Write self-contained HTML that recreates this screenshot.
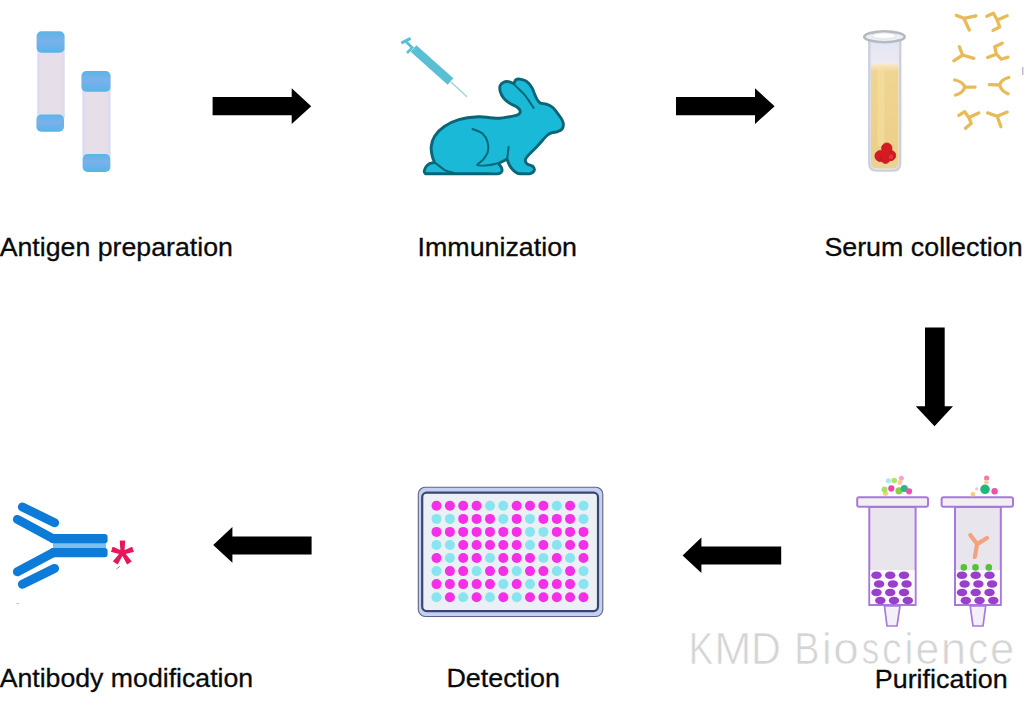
<!DOCTYPE html>
<html><head><meta charset="utf-8">
<style>
html,body{margin:0;padding:0;background:#fff;}
body{width:1035px;height:720px;overflow:hidden;position:relative;}
svg{position:absolute;left:0;top:0;}
text{font-family:"Liberation Sans",sans-serif;}
</style></head><body>
<svg width="1035" height="720" viewBox="0 0 1035 720">
<!-- ===== Antigen preparation tubes ===== -->
<g id="tubes">
  <defs>
    <linearGradient id="cap" x1="0" y1="0" x2="0" y2="1">
      <stop offset="0" stop-color="#58b6e6"/>
      <stop offset="0.45" stop-color="#7cb0ec"/>
      <stop offset="1" stop-color="#56b4e8"/>
    </linearGradient>
    <linearGradient id="tbody" x1="0" y1="0" x2="1" y2="0">
      <stop offset="0" stop-color="#d6d8f2"/>
      <stop offset="0.12" stop-color="#e6dee8"/>
      <stop offset="0.88" stop-color="#e6dee8"/>
      <stop offset="1" stop-color="#d6d8f2"/>
    </linearGradient>
  </defs>
  <rect x="37.3" y="48" width="27.4" height="70" fill="url(#tbody)"/>
  <rect x="36.4" y="114.6" width="27.6" height="17.2" rx="5" fill="url(#cap)"/>
  <rect x="36.6" y="31.2" width="28" height="21.6" rx="5" fill="url(#cap)"/>
  <rect x="82.4" y="88" width="28.2" height="68" fill="url(#tbody)"/>
  <rect x="82.6" y="154" width="27.8" height="18" rx="5" fill="url(#cap)"/>
  <rect x="81.4" y="71" width="29.2" height="20.8" rx="5" fill="url(#cap)"/>
</g>

<!-- ===== Arrows ===== -->
<g fill="#000">
  <path d="M212.6,97 L291.7,97 L291.7,88.2 L311.2,106.2 L291.7,124 L291.7,115.2 L212.6,115.2 Z"/>
  <path d="M676,97 L755,97 L755,88.2 L774.6,106.2 L755,124 L755,115.2 L676,115.2 Z"/>
  <path d="M925,327.5 L944.7,327.5 L944.7,406.3 L953,406.3 L934.5,426.3 L915.8,406.3 L925,406.3 Z"/>
  <path d="M311.6,536.4 L232.4,536.4 L232.4,527 L213.2,545 L232.4,562.8 L232.4,554.6 L311.6,554.6 Z"/>
  <path d="M781.2,546.4 L701.4,546.4 L701.4,537.4 L682.6,555.5 L701.4,573 L701.4,564.6 L781.2,564.6 Z"/>
</g>

<!-- ===== Syringe ===== -->
<g id="syringe">
  <line x1="451" y1="82" x2="467" y2="96.8" stroke="#9fd3df" stroke-width="1.5"/>
  <line x1="413.5" y1="48.5" x2="450.5" y2="81.5" stroke="#5bbfd3" stroke-width="8.6"/>
  <line x1="405.9" y1="41.5" x2="413" y2="48.5" stroke="#5bbfd3" stroke-width="2.8"/>
  <line x1="401.3" y1="43.2" x2="410.6" y2="38.3" stroke="#5bbfd3" stroke-width="3"/>
  <line x1="407" y1="53" x2="411.5" y2="48.5" stroke="#5bbfd3" stroke-width="2.6"/>
</g>

<!-- ===== Rabbit ===== -->
<g id="rabbit" stroke="#0b6576" stroke-linejoin="round" stroke-linecap="round">
  <path fill="#1ab9d8" stroke-width="2.9" d="M425.50,173.80 C425.28,173.37 424.08,172.42 424.20,171.20 C424.32,169.98 425.28,167.77 426.20,166.50 C427.12,165.23 428.30,164.27 429.70,163.60 C431.10,162.93 433.78,162.68 434.60,162.50 C434.23,161.52 432.97,159.20 432.40,156.60 C431.83,154.00 430.83,150.30 431.20,146.90 C431.57,143.50 432.42,139.60 434.60,136.20 C436.78,132.80 440.25,129.25 444.30,126.50 C448.35,123.75 453.23,121.32 458.90,119.70 C464.57,118.08 473.12,117.13 478.30,116.80 C483.48,116.47 486.43,117.47 490.00,117.70 C493.57,117.93 496.47,118.37 499.70,118.20 C502.93,118.03 506.48,117.20 509.40,116.70 C512.32,116.20 515.42,115.88 517.20,115.20 C518.98,114.52 519.73,113.57 520.10,112.60 C520.47,111.63 520.05,110.42 519.40,109.40 C518.75,108.38 517.87,107.55 516.20,106.50 C514.53,105.45 511.50,104.48 509.40,103.10 C507.30,101.72 505.13,100.15 503.60,98.20 C502.07,96.25 500.77,93.50 500.20,91.40 C499.63,89.30 499.63,87.13 500.20,85.60 C500.77,84.07 502.22,82.87 503.60,82.20 C504.98,81.53 506.80,81.35 508.50,81.60 C510.20,81.85 512.92,83.35 513.80,83.70 C514.20,83.02 514.98,80.33 516.20,79.60 C517.42,78.87 519.32,78.95 521.10,79.30 C522.88,79.65 525.12,80.33 526.90,81.70 C528.68,83.07 530.50,85.38 531.80,87.50 C533.10,89.62 533.73,92.28 534.70,94.40 C535.67,96.52 536.63,98.75 537.60,100.20 C538.57,101.65 539.03,102.45 540.50,103.10 C541.97,103.75 544.45,103.45 546.40,104.10 C548.35,104.75 550.42,105.55 552.20,107.00 C553.98,108.45 555.48,110.70 557.10,112.80 C558.72,114.90 560.85,117.65 561.90,119.60 C562.95,121.55 563.40,122.88 563.40,124.50 C563.40,126.12 562.95,128.08 561.90,129.30 C560.85,130.52 558.72,131.23 557.10,131.80 C555.48,132.37 553.83,132.13 552.20,132.70 C550.57,133.27 549.75,132.98 547.30,135.20 C544.85,137.42 540.68,142.63 537.50,146.00 C534.32,149.37 530.23,153.05 528.20,155.40 C526.17,157.75 525.48,158.68 525.30,160.10 C525.12,161.52 525.85,162.85 527.10,163.90 C528.35,164.95 531.62,165.28 532.80,166.40 C533.98,167.52 534.62,169.40 534.20,170.60 C533.78,171.80 532.33,173.08 530.30,173.60 C528.27,174.12 524.10,173.73 522.00,173.70 C519.90,173.67 519.15,173.98 517.70,173.40 C516.25,172.82 514.67,171.57 513.30,170.20 C511.93,168.83 510.55,167.08 509.50,165.20 C508.45,163.32 507.42,159.95 507.00,158.90 C506.25,159.33 503.83,160.72 502.50,161.50 C501.17,162.28 499.18,162.60 499.00,163.60 C498.82,164.60 500.92,166.23 501.40,167.50 C501.88,168.77 502.33,170.17 501.90,171.20 C501.47,172.23 500.78,173.27 498.80,173.70 C496.82,174.13 491.47,173.78 490.00,173.80 L425.50,173.80 Z"/>
  <g fill="none" stroke-width="2">
    <path d="M434.60,162.50 C435.08,162.85 435.72,163.30 437.50,164.60 C439.28,165.90 442.55,168.92 445.30,170.30 C448.05,171.68 452.55,172.47 454.00,172.90 "/>
    <path d="M472.50,129.00 C474.12,129.72 479.68,131.12 482.20,133.30 C484.72,135.48 486.67,139.02 487.60,142.10 C488.53,145.18 488.53,148.88 487.80,151.80 C487.07,154.72 484.95,157.37 483.20,159.60 C481.45,161.83 476.50,164.27 477.30,165.20 C478.10,166.13 484.60,165.52 488.00,165.20 C491.40,164.88 495.87,163.57 497.70,163.30 C499.53,163.03 498.78,163.55 499.00,163.60 "/>
    <path d="M508.60,146.90 C508.47,148.08 508.07,152.00 507.80,154.00 C507.53,156.00 507.13,158.08 507.00,158.90 "/>
    <path d="M513.80,84.10 C514.70,85.00 517.33,87.63 519.20,89.50 C521.07,91.37 523.23,93.20 525.00,95.30 C526.77,97.40 528.35,99.98 529.80,102.10 C531.25,104.22 533.05,107.02 533.70,108.00 "/>
  </g>
</g>

<!-- ===== Serum tube ===== -->
<g id="serum">
  <defs>
    <linearGradient id="liq" x1="0" y1="63" x2="0" y2="170" gradientUnits="userSpaceOnUse">
      <stop offset="0" stop-color="#f7ecd6"/>
      <stop offset="0.08" stop-color="#f0d592"/>
      <stop offset="0.85" stop-color="#ecd088"/>
      <stop offset="1" stop-color="#e8d49a"/>
    </linearGradient>
    <linearGradient id="glass" x1="0" y1="40" x2="0" y2="64" gradientUnits="userSpaceOnUse">
      <stop offset="0" stop-color="#e2e5f3"/>
      <stop offset="1" stop-color="#eceaf2"/>
    </linearGradient>
  </defs>
  <path d="M869.5,40 L869.5,163 Q869.5,170 876,170 L893,170 Q899.8,170 899.8,163 L899.8,40 Z" fill="url(#glass)"/>
  <path d="M871,63 L898.5,63 L898.5,163 Q898.5,168.6 893,168.6 L876.5,168.6 Q871,168.6 871,163 Z" fill="url(#liq)"/>
  <rect x="877.5" y="66" width="7" height="80" fill="#f6e2aa" opacity="0.5"/>
  <path d="M869.3,40 L869.3,163 Q869.3,170.6 876.5,170.6 L893,170.6 Q900.2,170.6 900.2,163 L900.2,40" fill="none" stroke="#cbd0dc" stroke-width="2.4"/>
  <ellipse cx="884.5" cy="36.8" rx="20.2" ry="5.4" fill="#eef0f4" stroke="#b4b9c2" stroke-width="2.6"/>
  <ellipse cx="884" cy="35.9" rx="12.2" ry="3.1" fill="#fdfdfe" stroke="#d5d8de" stroke-width="0.8"/>
  <g fill="#d41b24" stroke="#c01520" stroke-width="0.8">
    <circle cx="880.5" cy="156" r="5.6"/>
    <circle cx="890.5" cy="155.5" r="5.2"/>
    <circle cx="886.8" cy="148.2" r="5.2"/>
    <circle cx="885.5" cy="158.8" r="4.6"/>
  </g>
  <circle cx="886" cy="154" r="4.5" fill="#d41b24"/>
  <circle cx="891" cy="157" r="2.2" fill="#e84050" opacity="0.7"/>
</g>

<!-- ===== Serum antibodies ===== -->
<g id="abs" stroke="#e8bb58" stroke-width="3.3" stroke-linecap="round" stroke-linejoin="round" fill="none">
  <path d="M956.3,15.4 L963.8,18.3 L975.9,15.8 M963.8,18.3 L969.3,30"/>
  <path d="M986.8,16.3 L993.4,13.3 L997.2,20 L1007.2,15.8 M997.2,20 L999.7,27 L993,30.4"/>
  <path d="M959.3,46.7 L962.6,55 L953.8,60.8 M962.6,55 L973.8,58.3"/>
  <path d="M1002.2,43.3 L994.7,46.7 L996.3,54.2 L987.6,57.5 M996.3,54.2 L1001.3,59.2 L1008,57.1"/>
  <path d="M954.7,80 Q963,81.5 964.7,87.1 Q963,93 955.5,95 M964.7,87.1 L975,87.1"/>
  <path d="M1008.8,77.5 Q1001,79.5 999.7,85 Q1001,91 1008,93.8 M999.7,85 L989.3,84.6"/>
  <path d="M958.8,115.4 L964.7,111.7 L968.8,117.5 L978.8,112.9 M968.8,117.5 L971.3,123.3 L965.5,128.3"/>
  <path d="M987.6,112.9 L997.2,116.3 L1007.2,112.1 M997.2,116.3 L1000.9,126.7"/>
</g>
<line x1="1022.8" y1="67" x2="1022.8" y2="75" stroke="#9aa0a8" stroke-width="1"/>
<line x1="116.5" y1="569" x2="119.8" y2="566.3" stroke="#777" stroke-width="0.9"/>
<line x1="16.5" y1="603.6" x2="19" y2="603.6" stroke="#aaa" stroke-width="0.8"/>

<!-- ===== Purification columns ===== -->
<g id="purif">
<path d="M884.5,606 L900,606 L897,626 L887,626 Z" fill="#f4f0f7" stroke="#a779dd" stroke-width="1.7"/>
<rect x="869.3" y="507" width="46.3" height="98" fill="#e9e5ed" stroke="#a779dd" stroke-width="2"/>
<rect x="870.3" y="570" width="44.3" height="34" fill="#fbf9fc"/>
<rect x="857.2" y="497.3" width="70.8" height="9.5" rx="2" fill="#f1eff1" stroke="#a779dd" stroke-width="2"/>
<ellipse cx="876.5" cy="575.3" rx="5.2" ry="3.8" fill="#9a3fcb"/>
<ellipse cx="890.2" cy="575.3" rx="5.2" ry="3.8" fill="#9a3fcb"/>
<ellipse cx="904.0" cy="575.3" rx="5.2" ry="3.8" fill="#9a3fcb"/>
<ellipse cx="879.1" cy="584" rx="5.2" ry="3.8" fill="#9a3fcb"/>
<ellipse cx="892.9" cy="584" rx="5.2" ry="3.8" fill="#9a3fcb"/>
<ellipse cx="906.6" cy="584" rx="5.2" ry="3.8" fill="#9a3fcb"/>
<ellipse cx="876.5" cy="592.5" rx="5.2" ry="3.8" fill="#9a3fcb"/>
<ellipse cx="890.2" cy="592.5" rx="5.2" ry="3.8" fill="#9a3fcb"/>
<ellipse cx="904.0" cy="592.5" rx="5.2" ry="3.8" fill="#9a3fcb"/>
<ellipse cx="880.3" cy="600.5" rx="5.2" ry="3.8" fill="#9a3fcb"/>
<ellipse cx="894.0" cy="600.5" rx="5.2" ry="3.8" fill="#9a3fcb"/>
<ellipse cx="907.8" cy="600.5" rx="5.2" ry="3.8" fill="#9a3fcb"/>
<path d="M970.2,606 L985.7,606 L983,626 L973,626 Z" fill="#f4f0f7" stroke="#a779dd" stroke-width="1.7"/>
<rect x="955" y="507" width="45.8" height="98" fill="#e9e5ed" stroke="#a779dd" stroke-width="2"/>
<rect x="956" y="570" width="43.8" height="34" fill="#fbf9fc"/>
<rect x="941.6" y="497.3" width="71.4" height="9.5" rx="2" fill="#f1eff1" stroke="#a779dd" stroke-width="2"/>
<ellipse cx="962.0" cy="575.3" rx="5.2" ry="3.8" fill="#9a3fcb"/>
<ellipse cx="975.7" cy="575.3" rx="5.2" ry="3.8" fill="#9a3fcb"/>
<ellipse cx="989.5" cy="575.3" rx="5.2" ry="3.8" fill="#9a3fcb"/>
<ellipse cx="964.6" cy="584" rx="5.2" ry="3.8" fill="#9a3fcb"/>
<ellipse cx="978.4" cy="584" rx="5.2" ry="3.8" fill="#9a3fcb"/>
<ellipse cx="992.1" cy="584" rx="5.2" ry="3.8" fill="#9a3fcb"/>
<ellipse cx="962.0" cy="592.5" rx="5.2" ry="3.8" fill="#9a3fcb"/>
<ellipse cx="975.7" cy="592.5" rx="5.2" ry="3.8" fill="#9a3fcb"/>
<ellipse cx="989.5" cy="592.5" rx="5.2" ry="3.8" fill="#9a3fcb"/>
<ellipse cx="965.8" cy="600.5" rx="5.2" ry="3.8" fill="#9a3fcb"/>
<ellipse cx="979.5" cy="600.5" rx="5.2" ry="3.8" fill="#9a3fcb"/>
<ellipse cx="993.3" cy="600.5" rx="5.2" ry="3.8" fill="#9a3fcb"/>
<g>
<circle cx="963.8" cy="567.4" r="3.3" fill="#52c236"/>
<circle cx="975.5" cy="567.4" r="3.3" fill="#52c236"/>
<circle cx="988.8" cy="567.4" r="3.3" fill="#52c236"/>
<path d="M974.8,557 L977.1,544.1 M970.3,534.9 L977.1,544.1 L987,538" stroke="#f3a37c" stroke-width="4.2" stroke-linecap="round" stroke-linejoin="round" fill="none"/>
</g>
<g>
<circle cx="888.4" cy="480.7" r="2.5" fill="#a8e6f0"/>
<circle cx="894.2" cy="480.5" r="2.8" fill="#b4e268"/>
<circle cx="901.4" cy="478.3" r="2.5" fill="#f2a6cc"/>
<circle cx="900" cy="482.5" r="2.5" fill="#f8cc94"/>
<circle cx="885.5" cy="493.3" r="2.6" fill="#f2d274"/>
<circle cx="884.5" cy="489.4" r="3" fill="#a8e064"/>
<circle cx="891.3" cy="488.4" r="3.1" fill="#f044a6"/>
<circle cx="899" cy="490.8" r="3.6" fill="#86d244"/>
<circle cx="904.3" cy="488.5" r="3.6" fill="#24b88e"/>
<circle cx="909.1" cy="491.3" r="3.1" fill="#f052a6"/>
<circle cx="976.7" cy="488.8" r="1.6" fill="#f8c4d4"/>
<circle cx="972.9" cy="494.2" r="2.3" fill="#f8ca84"/>
<circle cx="986.6" cy="478" r="2.6" fill="#f07cac"/>
<circle cx="986.4" cy="482.3" r="2.3" fill="#f8caa4"/>
<circle cx="985" cy="489.3" r="4.8" fill="#1fb87c"/>
<circle cx="994.6" cy="491.3" r="3.2" fill="#f052aa"/>
</g>
</g>

<!-- ===== Detection plate ===== -->
<g id="plate">
  <rect x="418.3" y="487.2" width="184.5" height="129.3" rx="7" fill="#c4d0f2" stroke="#5c6486" stroke-width="1.1"/>
  <rect x="422.2" y="492.7" width="175.8" height="118.4" rx="4.5" fill="#eaf0f5" stroke="#3a4670" stroke-width="2.2"/>
  <g id="wells">
<circle cx="436.5" cy="505.8" r="5" fill="#f52ee8"/>
<circle cx="449.9" cy="505.8" r="5" fill="#f52ee8"/>
<circle cx="463.2" cy="505.8" r="5" fill="#f52ee8"/>
<circle cx="476.6" cy="505.8" r="5" fill="#f52ee8"/>
<circle cx="490.0" cy="505.8" r="5" fill="#88e4ee"/>
<circle cx="503.3" cy="505.8" r="5" fill="#88e4ee"/>
<circle cx="516.7" cy="505.8" r="5" fill="#f52ee8"/>
<circle cx="530.0" cy="505.8" r="5" fill="#f52ee8"/>
<circle cx="543.4" cy="505.8" r="5" fill="#f52ee8"/>
<circle cx="556.8" cy="505.8" r="5" fill="#88e4ee"/>
<circle cx="570.1" cy="505.8" r="5" fill="#f52ee8"/>
<circle cx="583.5" cy="505.8" r="5" fill="#88e4ee"/>
<circle cx="436.5" cy="518.9" r="5" fill="#88e4ee"/>
<circle cx="449.9" cy="518.9" r="5" fill="#88e4ee"/>
<circle cx="463.2" cy="518.9" r="5" fill="#f52ee8"/>
<circle cx="476.6" cy="518.9" r="5" fill="#f52ee8"/>
<circle cx="490.0" cy="518.9" r="5" fill="#f52ee8"/>
<circle cx="503.3" cy="518.9" r="5" fill="#88e4ee"/>
<circle cx="516.7" cy="518.9" r="5" fill="#f52ee8"/>
<circle cx="530.0" cy="518.9" r="5" fill="#88e4ee"/>
<circle cx="543.4" cy="518.9" r="5" fill="#f52ee8"/>
<circle cx="556.8" cy="518.9" r="5" fill="#f52ee8"/>
<circle cx="570.1" cy="518.9" r="5" fill="#f52ee8"/>
<circle cx="583.5" cy="518.9" r="5" fill="#88e4ee"/>
<circle cx="436.5" cy="531.9" r="5" fill="#f52ee8"/>
<circle cx="449.9" cy="531.9" r="5" fill="#f52ee8"/>
<circle cx="463.2" cy="531.9" r="5" fill="#f52ee8"/>
<circle cx="476.6" cy="531.9" r="5" fill="#f52ee8"/>
<circle cx="490.0" cy="531.9" r="5" fill="#f52ee8"/>
<circle cx="503.3" cy="531.9" r="5" fill="#f52ee8"/>
<circle cx="516.7" cy="531.9" r="5" fill="#f52ee8"/>
<circle cx="530.0" cy="531.9" r="5" fill="#88e4ee"/>
<circle cx="543.4" cy="531.9" r="5" fill="#88e4ee"/>
<circle cx="556.8" cy="531.9" r="5" fill="#f52ee8"/>
<circle cx="570.1" cy="531.9" r="5" fill="#f52ee8"/>
<circle cx="583.5" cy="531.9" r="5" fill="#f52ee8"/>
<circle cx="436.5" cy="545.0" r="5" fill="#88e4ee"/>
<circle cx="449.9" cy="545.0" r="5" fill="#88e4ee"/>
<circle cx="463.2" cy="545.0" r="5" fill="#f52ee8"/>
<circle cx="476.6" cy="545.0" r="5" fill="#f52ee8"/>
<circle cx="490.0" cy="545.0" r="5" fill="#f52ee8"/>
<circle cx="503.3" cy="545.0" r="5" fill="#f52ee8"/>
<circle cx="516.7" cy="545.0" r="5" fill="#f52ee8"/>
<circle cx="530.0" cy="545.0" r="5" fill="#88e4ee"/>
<circle cx="543.4" cy="545.0" r="5" fill="#f52ee8"/>
<circle cx="556.8" cy="545.0" r="5" fill="#88e4ee"/>
<circle cx="570.1" cy="545.0" r="5" fill="#f52ee8"/>
<circle cx="583.5" cy="545.0" r="5" fill="#f52ee8"/>
<circle cx="436.5" cy="558.0" r="5" fill="#f52ee8"/>
<circle cx="449.9" cy="558.0" r="5" fill="#88e4ee"/>
<circle cx="463.2" cy="558.0" r="5" fill="#f52ee8"/>
<circle cx="476.6" cy="558.0" r="5" fill="#f52ee8"/>
<circle cx="490.0" cy="558.0" r="5" fill="#88e4ee"/>
<circle cx="503.3" cy="558.0" r="5" fill="#f52ee8"/>
<circle cx="516.7" cy="558.0" r="5" fill="#f52ee8"/>
<circle cx="530.0" cy="558.0" r="5" fill="#f52ee8"/>
<circle cx="543.4" cy="558.0" r="5" fill="#88e4ee"/>
<circle cx="556.8" cy="558.0" r="5" fill="#f52ee8"/>
<circle cx="570.1" cy="558.0" r="5" fill="#88e4ee"/>
<circle cx="583.5" cy="558.0" r="5" fill="#f52ee8"/>
<circle cx="436.5" cy="571.1" r="5" fill="#88e4ee"/>
<circle cx="449.9" cy="571.1" r="5" fill="#f52ee8"/>
<circle cx="463.2" cy="571.1" r="5" fill="#f52ee8"/>
<circle cx="476.6" cy="571.1" r="5" fill="#88e4ee"/>
<circle cx="490.0" cy="571.1" r="5" fill="#f52ee8"/>
<circle cx="503.3" cy="571.1" r="5" fill="#f52ee8"/>
<circle cx="516.7" cy="571.1" r="5" fill="#88e4ee"/>
<circle cx="530.0" cy="571.1" r="5" fill="#f52ee8"/>
<circle cx="543.4" cy="571.1" r="5" fill="#f52ee8"/>
<circle cx="556.8" cy="571.1" r="5" fill="#88e4ee"/>
<circle cx="570.1" cy="571.1" r="5" fill="#f52ee8"/>
<circle cx="583.5" cy="571.1" r="5" fill="#88e4ee"/>
<circle cx="436.5" cy="584.1" r="5" fill="#f52ee8"/>
<circle cx="449.9" cy="584.1" r="5" fill="#f52ee8"/>
<circle cx="463.2" cy="584.1" r="5" fill="#f52ee8"/>
<circle cx="476.6" cy="584.1" r="5" fill="#f52ee8"/>
<circle cx="490.0" cy="584.1" r="5" fill="#f52ee8"/>
<circle cx="503.3" cy="584.1" r="5" fill="#88e4ee"/>
<circle cx="516.7" cy="584.1" r="5" fill="#f52ee8"/>
<circle cx="530.0" cy="584.1" r="5" fill="#88e4ee"/>
<circle cx="543.4" cy="584.1" r="5" fill="#f52ee8"/>
<circle cx="556.8" cy="584.1" r="5" fill="#f52ee8"/>
<circle cx="570.1" cy="584.1" r="5" fill="#f52ee8"/>
<circle cx="583.5" cy="584.1" r="5" fill="#88e4ee"/>
<circle cx="436.5" cy="597.2" r="5" fill="#88e4ee"/>
<circle cx="449.9" cy="597.2" r="5" fill="#f52ee8"/>
<circle cx="463.2" cy="597.2" r="5" fill="#88e4ee"/>
<circle cx="476.6" cy="597.2" r="5" fill="#f52ee8"/>
<circle cx="490.0" cy="597.2" r="5" fill="#88e4ee"/>
<circle cx="503.3" cy="597.2" r="5" fill="#f52ee8"/>
<circle cx="516.7" cy="597.2" r="5" fill="#88e4ee"/>
<circle cx="530.0" cy="597.2" r="5" fill="#f52ee8"/>
<circle cx="543.4" cy="597.2" r="5" fill="#f52ee8"/>
<circle cx="556.8" cy="597.2" r="5" fill="#f52ee8"/>
<circle cx="570.1" cy="597.2" r="5" fill="#f52ee8"/>
<circle cx="583.5" cy="597.2" r="5" fill="#f52ee8"/>
</g>
</g>

<!-- ===== Antibody modification ===== -->
<g id="ab" fill="#0d7bd8">
  <rect x="53" y="543" width="53" height="5" fill="#7cbeee"/>
  <g stroke="#0d7bd8" stroke-width="9" stroke-linecap="round" fill="none">
    <path d="M17.4,519.4 L53,538.6"/>
    <path d="M17.4,571.8 L53,552.7"/>
    <path d="M22.4,507 L54.6,522.8"/>
    <path d="M22.4,584.2 L54.6,568.4"/>
  </g>
  <rect x="50" y="534.1" width="57.6" height="9.1" rx="3"/>
  <rect x="50" y="548" width="57.6" height="9.3" rx="3"/>
</g>
<text transform="translate(110.0,587.0) scale(1,1.065)" font-size="63.5" font-weight="bold" fill="#e6175b" stroke="#fff" stroke-width="1.1" style="font-family:'Liberation Sans',sans-serif">*</text>

<!-- ===== Text ===== -->
<g font-size="26" fill="#0a0a0a" stroke="#0a0a0a" stroke-width="0.3">
<text transform="translate(-0.35,256) scale(1.0280,1)">Antigen preparation</text>
<text transform="translate(417.52,256) scale(1.0317,1)">Immunization</text>
<text transform="translate(824.38,256) scale(1.0321,1)">Serum collection</text>
<text transform="translate(-0.35,687) scale(1.0265,1)">Antibody modification</text>
<text transform="translate(446.39,686.8) scale(1.0347,1)">Detection</text>
<text transform="translate(874.80,688) scale(1.0337,1)">Purification</text>
</g>
<g font-size="45" fill="#d4d4d4" stroke="#fff" stroke-width="0.7">
<text transform="translate(688.78,664) scale(0.817,1)">K</text>
<text transform="translate(714.33,664) scale(0.993,1)">M</text>
<text transform="translate(750.91,664) scale(0.919,1)">D</text>
<text transform="translate(794.20,664) scale(0.839,1)">B</text>
<text transform="translate(821.91,664) scale(0.961,1)">i</text>
<text transform="translate(833.28,664) scale(1.017,1)">o</text>
<text transform="translate(861.83,664) scale(0.775,1)">s</text>
<text transform="translate(882.03,664) scale(0.876,1)">c</text>
<text transform="translate(904.18,664) scale(0.936,1)">i</text>
<text transform="translate(915.39,664) scale(0.947,1)">e</text>
<text transform="translate(940.77,664) scale(1.015,1)">n</text>
<text transform="translate(968.10,664) scale(0.892,1)">c</text>
<text transform="translate(989.94,664) scale(0.971,1)">e</text>
</g>
</svg>
</body></html>
